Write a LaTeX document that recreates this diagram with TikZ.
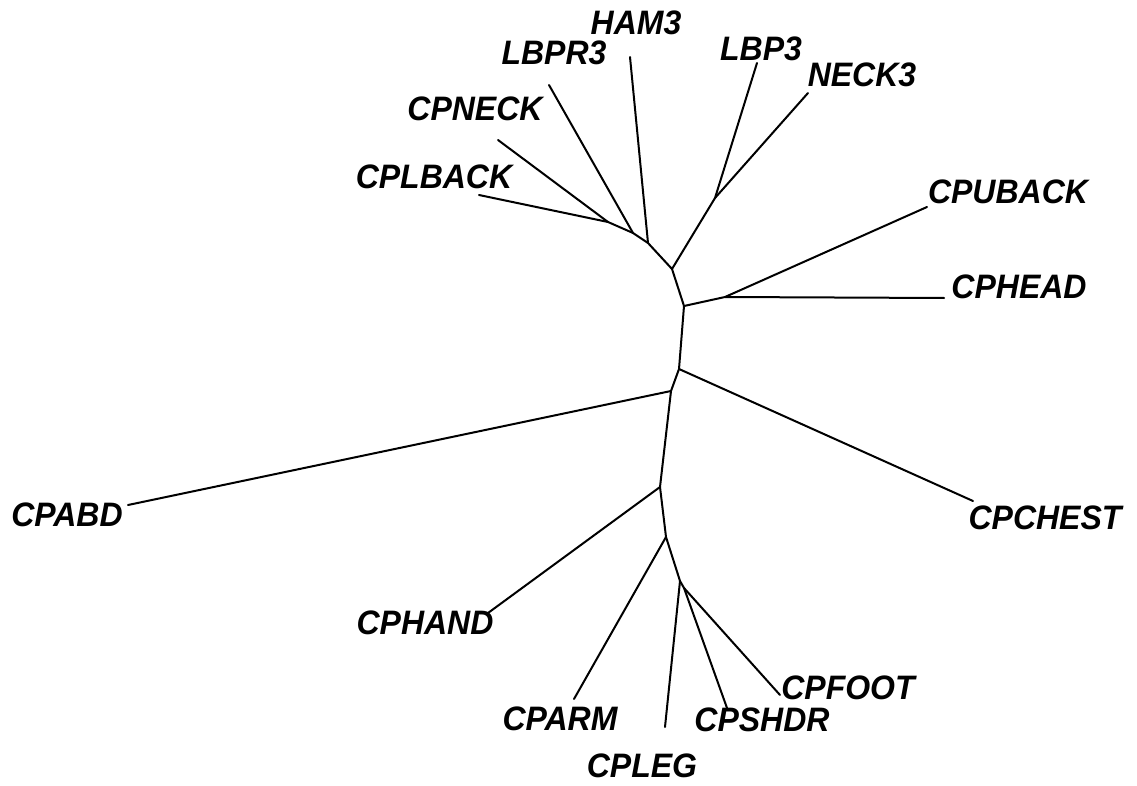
\documentclass[tikz,border=0pt]{standalone}
\usepackage{fontspec}
\setmainfont{Liberation Sans}
\begin{document}
\begin{tikzpicture}[x=1pt,y=-1pt,
  br/.style={line width=2pt,line cap=round,line join=round},
  lab/.style={inner sep=0pt,font=\fontsize{32}{36}\selectfont\bfseries\itshape,yscale=1.06}]
\useasboundingbox (0,0) rectangle (1137,786);
% internal nodes
\coordinate (n1) at (608,222);
\coordinate (n2) at (633,233);
\coordinate (n3) at (648,243);
\coordinate (n4) at (672,269);
\coordinate (n5) at (715,198);
\coordinate (n6) at (684,306);
\coordinate (n7) at (725,297);
\coordinate (n8) at (679,369);
\coordinate (n9) at (671,391);
\coordinate (n10) at (660,487);
\coordinate (n11) at (666,537);
\coordinate (n12) at (680,581);
\coordinate (n13) at (684,588);
% leaf tips
\coordinate (tLBACK) at (479,195);
\coordinate (tNECK) at (498,140);
\coordinate (tLBPR) at (549,85);
\coordinate (tHAM) at (630,57);
\coordinate (tLBP) at (757,63);
\coordinate (tNECK3) at (808,93);
\coordinate (tUBACK) at (927,207);
\coordinate (tHEAD) at (944,298);
\coordinate (tCHEST) at (973,501);
\coordinate (tABD) at (128,505);
\coordinate (tHAND) at (488,613);
\coordinate (tARM) at (574,699);
\coordinate (tLEG) at (665,727);
\coordinate (tSHDR) at (727,708);
\coordinate (tFOOT) at (780,695);
% labels
\node[lab] (lHAM) at (636,23) {HAM3};
\node[lab] (lLBPR) at (554,53) {LBPR3};
\node[lab] (lLBP) at (761,49) {LBP3};
\node[lab] (lNECK3) at (862,75) {NECK3};
\node[lab] (lNECK) at (475,109) {CPNECK};
\node[lab] (lLBACK) at (434,177) {CPLBACK};
\node[lab] (lUBACK) at (1008,192) {CPUBACK};
\node[lab] (lHEAD) at (1019,287) {CPHEAD};
\node[lab] (lCHEST) at (1045,518) {CPCHEST};
\node[lab] (lABD) at (67,515) {CPABD};
\node[lab] (lHAND) at (425,623) {CPHAND};
\node[lab] (lARM) at (560,719) {CPARM};
\node[lab] (lLEG) at (642,766) {CPLEG};
\node[lab] (lSHDR) at (762,720) {CPSHDR};
\node[lab] (lFOOT) at (848,688) {CPFOOT};
% backbone
\draw[br] (n1) -- (n2) -- (n3) -- (n4) -- (n6) -- (n8) -- (n9) -- (n10) -- (n11) -- (n12) -- (n13);
\draw[br] (n4) -- (n5);
\draw[br] (n6) -- (n7);
% leaves
\draw[br] (n1) -- (tLBACK);
\draw[br] (n1) -- (tNECK);
\draw[br] (n2) -- (tLBPR);
\draw[br] (n3) -- (tHAM);
\draw[br] (n5) -- (tLBP);
\draw[br] (n5) -- (tNECK3);
\draw[br] (n7) -- (tUBACK);
\draw[br] (n7) -- (tHEAD);
\draw[br] (n8) -- (tCHEST);
\draw[br] (n9) -- (tABD);
\draw[br] (n10) -- (tHAND);
\draw[br] (n11) -- (tARM);
\draw[br] (n12) -- (tLEG);
\draw[br] (n13) -- (tSHDR);
\draw[br] (n13) -- (tFOOT);
\end{tikzpicture}
\end{document}
